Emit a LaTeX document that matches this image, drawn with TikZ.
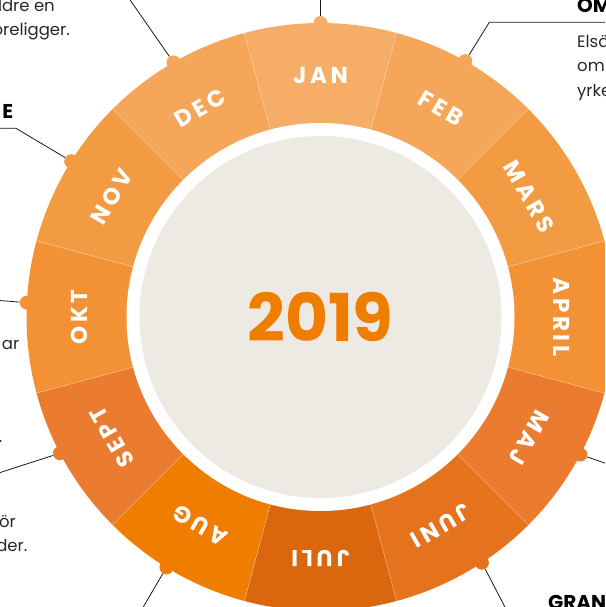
\documentclass[tikz,border=0pt]{standalone}
\usepackage{fontspec}
\setmainfont{Poppins}
\newfontfamily\monthfont[LetterSpace=16]{Poppins}
\definecolor{cJan}{RGB}{246,173,103}
\definecolor{cFeb}{RGB}{245,166,88}
\definecolor{cDec}{RGB}{245,166,88}
\definecolor{cMar}{RGB}{243,155,66}
\definecolor{cNov}{RGB}{243,155,66}
\definecolor{cApr}{RGB}{242,146,53}
\definecolor{cOkt}{RGB}{242,146,53}
\definecolor{cMaj}{RGB}{235,123,46}
\definecolor{cSep}{RGB}{235,123,46}
\definecolor{cJun}{RGB}{229,115,30}
\definecolor{cAug}{RGB}{239,125,0}
\definecolor{cJul}{RGB}{218,103,14}
\definecolor{cGrey}{RGB}{237,234,227}
\definecolor{cYear}{RGB}{239,125,0}
\definecolor{cText}{RGB}{40,40,40}
\begin{document}
\begin{tikzpicture}[x=1pt,y=1pt,
  monthlbl/.style={text=white,font=\monthfont\bfseries\fontsize{23}{23}\selectfont,inner sep=0pt,anchor=center},
  dotmark/.style={circle,inner sep=0pt,minimum size=14pt},
  leader/.style={draw=black!90,line width=0.8pt},
  body/.style={font=\fontsize{16.5}{16.5}\selectfont,text=cText,inner sep=0pt},
  heading/.style={font=\bfseries\fontsize{20}{20}\selectfont,text=black,inner sep=0pt}]
\useasboundingbox (0,0) rectangle (605,607);
\clip (0,0) rectangle (605,607);
\coordinate (C) at (320.5,290);
% ring segments
\begin{scope}[shift={(C)}]
\foreach \a/\c in {90/cJan,60/cFeb,30/cMar,0/cApr,-30/cMaj,-60/cJun,-90/cJul,-120/cAug,-150/cSep,-180/cOkt,-210/cNov,-240/cDec}{
  \fill[\c] ({\a-15}:190pt) arc[start angle=\a-15,end angle=\a+15,radius=190pt]
     -- ({\a+15}:294pt) arc[start angle=\a+15,end angle=\a-15,radius=294pt] -- cycle;
}
\foreach \a in {75,45,15,-15,-45,-75,-105,-135,-165,-195,-225,-255}{
  \draw[white,opacity=.35,line width=.6pt] (\a:194pt) -- (\a:294pt);
}
\fill[white] (0,0) circle[radius=194pt];
\fill[cGrey] (0,0) circle[radius=181pt];
\node[font=\bfseries\fontsize{66}{66}\selectfont,text=cYear,inner sep=0pt] (year) at (0,0) {2019};
% month labels
\foreach \a/\t/\n in {90/JAN/jan,60/FEB/feb,30/MARS/mar,0/APRIL/apr,-30/MAJ/maj,-60/JUNI/jun,-90/JULI/jul,-120/AUG/aug,-150/SEPT/sep,-180/OKT/okt,-210/NOV/nov,-240/DEC/dec}{
  \node[monthlbl,rotate=\a-90] (m-\n) at (\a:241pt) {\t\hspace{-3pt}};
}
% dots
\node[dotmark,fill=cJan] (d-jan) at (90:294pt) {};
\node[dotmark,fill=cFeb] (d-feb) at (60.5:294pt) {};
\node[dotmark,fill=cDec] (d-dec) at (120:294pt) {};
\node[dotmark,fill=cNov] (d-nov) at (148:294pt) {};
\node[dotmark,fill=cOkt] (d-okt) at (177.2:294pt) {};
\node[dotmark,fill=cSep] (d-sep) at (207.6:294pt) {};
\node[dotmark,fill=cAug] (d-aug) at (238.4:294pt) {};
\node[dotmark,fill=cJun] (d-jun) at (-56.7:294pt) {};
\node[dotmark,fill=cMaj] (d-maj) at (-27.9:294pt) {};
\end{scope}
% leader ends
\coordinate (e-jan) at (320.5,610);
\coordinate (k-feb) at (489.3,584.7);
\coordinate (e-feb) at (610,584.7);
\coordinate (e-dec) at (128,610);
\coordinate (k-nov) at (16,478.7);
\coordinate (e-nov) at (-5,478.7);
\coordinate (e-okt) at (-5,306.8);
\coordinate (e-sep) at (-5,132.8);
\coordinate (e-aug) at (141.5,-3);
\coordinate (e-jun) at (506.5,-3);
\coordinate (e-maj) at (610,142.2);
\draw[leader] (d-jan) -- (e-jan);
\draw[leader] (d-feb) -- (k-feb) -- (e-feb);
\draw[leader] (d-dec) -- (e-dec);
\draw[leader] (d-nov) -- (k-nov) -- (e-nov);
\draw[leader] (d-okt) -- (e-okt);
\draw[leader] (d-sep) -- (e-sep);
\draw[leader] (d-aug) -- (e-aug);
\draw[leader] (d-jun) -- (e-jun);
\draw[leader] (d-maj) -- (e-maj);
% texts
\node[body,anchor=base east] (t1) at (55,595) {ldre en};
\node[body,anchor=base east] (t2) at (70,571.5) {öreligger.};
\node[heading,anchor=base east] (h1) at (13.5,488.7) {E};
\node[heading,anchor=base west] (h2) at (577,594) {OM};
\node[body,anchor=base west] (t3) at (577,559.5) {Elsä};
\node[body,anchor=base west] (t4) at (577,535) {om};
\node[body,anchor=base west] (t5) at (577,510.5) {yrke};
\node[body,anchor=base east] (t6) at (19.5,257) {ar};
\node[body,anchor=base east] (t7) at (2.5,164) {.};
\node[body,anchor=base east] (t8) at (16,79) {ör};
\node[body,anchor=base east] (t9) at (27.5,55) {der.};
\node[heading,anchor=base west] (h3) at (548,-2) {GRAN};
\end{tikzpicture}
\end{document}
